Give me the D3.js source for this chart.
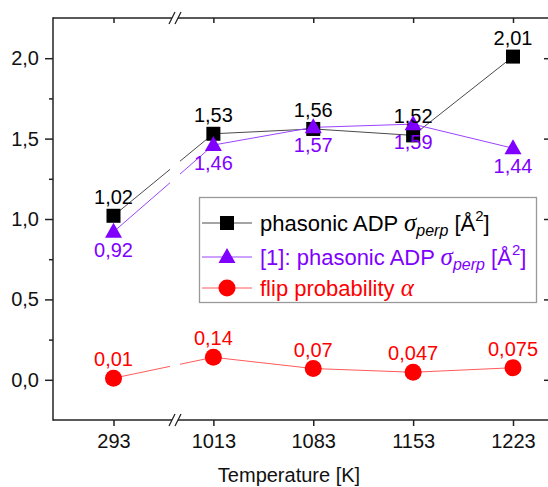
<!DOCTYPE html>
<html><head><meta charset="utf-8">
<script src="https://d3js.org/d3.v7.min.js"></script>
<style>
html,body{margin:0;padding:0;background:#fff;}
svg{display:block;font-family:"Liberation Sans",Arial,sans-serif;}
</style></head>
<body>
<svg id="c" width="548" height="487"></svg>
<script>
const categories = ["293","1013","1083","1153","1223"];
const phasonADP = [1.02, 1.53, 1.56, 1.52, 2.01];
const refADP = [0.92, 1.46, 1.57, 1.59, 1.44];
const flipProb = [0.01, 0.14, 0.07, 0.047, 0.075];
const phasonLabels = ["1,02","1,53","1,56","1,52","2,01"];
const refLabels = ["0,92","1,46","1,57","1,59","1,44"];
const flipLabels = ["0,01","0,14","0,07","0,047","0,075"];
const yTicks = [0, 0.5, 1.0, 1.5, 2.0];
const yMinorTicks = [0.25, 0.75, 1.25, 1.75];

const svg = d3.select("#c");
const L = 53, R = 549, T = 18, B = 420;
const x = d3.scalePoint().domain(categories).range([113.5, 513]);
const y = d3.scaleLinear().domain([-0.25, 2.25]).range([B, T]);
const fmt = v => d3.format(".1f")(v).replace(".", ",");
const axisColor = "#222";
const FS = 20;

const breakX = 175;
const defs = svg.append("defs");
const cp = defs.append("clipPath").attr("id","gap");
cp.append("rect").attr("x",0).attr("y",0).attr("width",breakX-5).attr("height",487);
cp.append("rect").attr("x",breakX+5).attr("y",0).attr("width",548).attr("height",487);

const gL = svg.append("g").attr("transform",`translate(${L},0)`)
  .call(d3.axisLeft(y).tickValues(yTicks).tickSize(8).tickPadding(5).tickFormat(fmt));
gL.append("g").call(d3.axisLeft(y).tickValues(yMinorTicks).tickSize(4).tickFormat(""));
const gR = svg.append("g").attr("transform",`translate(${R},0)`)
  .call(d3.axisLeft(y).tickValues(yTicks).tickSize(5).tickFormat(""));
const gB = svg.append("g").attr("transform",`translate(0,${B})`)
  .call(d3.axisBottom(x).tickSize(6).tickPadding(8));
const gT = svg.append("g").attr("transform",`translate(0,${T})`)
  .call(d3.axisBottom(x).tickSize(5).tickFormat(""));
[gL,gR,gB,gT].forEach(g=>{
  g.selectAll(".domain").remove();
  g.selectAll("line").attr("stroke",axisColor).attr("stroke-width",1.5);
  g.selectAll("text").attr("font-size",FS).attr("fill","#111")
    .attr("font-family",'"Liberation Sans",Arial,sans-serif');
});
gL.selectAll("text").attr("dx",-1);
const frame = svg.append("g").attr("stroke",axisColor).attr("stroke-width",1.5).attr("fill","none");
frame.append("line").attr("x1",L).attr("x2",L).attr("y1",T-0.75).attr("y2",B+0.75);
frame.append("line").attr("x1",R).attr("x2",R).attr("y1",T).attr("y2",B);
frame.append("line").attr("x1",L).attr("x2",R).attr("y1",T).attr("y2",T);
frame.append("line").attr("x1",L).attr("x2",R).attr("y1",B).attr("y2",B);
[T,B].forEach(yy=>{
  svg.append("rect").attr("x",breakX-3).attr("y",yy-2).attr("width",6).attr("height",4).attr("fill","#fff");
  [-3,3].forEach(dx=>{
    svg.append("line").attr("x1",breakX+dx-3).attr("y1",yy+6).attr("x2",breakX+dx+3).attr("y2",yy-6)
      .attr("stroke",axisColor).attr("stroke-width",1.3);
  });
});

svg.append("text").attr("x",289).attr("y",482).attr("text-anchor","middle")
  .attr("font-size",FS).attr("fill","#111").text("Temperature [K]");

const series = [
  {vals: phasonADP, labels: phasonLabels, color:"#000", line:"#4a4a4a", shape:"square", dy:-12},
  {vals: refADP, labels: refLabels, color:"#8000ff", line:"#9a44ff", shape:"triangle", dy:25},
  {vals: flipProb, labels: flipLabels, color:"#ff0000", line:"#ff5a5a", shape:"circle", dy:-12}
];
const lineGen = d3.line().x((d,i)=>x(categories[i])).y(d=>y(d));
series.forEach(s=>{
  svg.append("path").datum(s.vals).attr("d",lineGen).attr("fill","none")
    .attr("stroke",s.line).attr("stroke-width",1).attr("clip-path","url(#gap)");
});
function marker(g, shape, color, cx, cy){
  if(shape==="square") g.append("rect").attr("x",cx-7).attr("y",cy-7).attr("width",14).attr("height",14).attr("fill",color);
  else if(shape==="triangle") g.append("path").attr("d",`M${cx},${cy-9}L${cx+8.5},${cy+6}L${cx-8.5},${cy+6}Z`).attr("fill",color);
  else g.append("circle").attr("cx",cx).attr("cy",cy).attr("r",8.5).attr("fill",color);
}
series.forEach(s=>{
  const g = svg.append("g");
  s.vals.forEach((v,i)=>marker(g, s.shape, s.color, x(categories[i]), y(v)));
});
series.forEach(s=>{
  svg.append("g").selectAll("text").data(s.vals).join("text")
    .attr("x",(d,i)=>x(categories[i])).attr("y",d=>y(d)+s.dy)
    .attr("text-anchor","middle").attr("font-size",FS).attr("fill",s.color)
    .text((d,i)=>s.labels[i]);
});

const lg = svg.append("g");
lg.append("rect").attr("x",199.5).attr("y",197.5).attr("width",337).attr("height",105)
  .attr("fill","#fff").attr("stroke","#999").attr("stroke-width",1.3);
const legendRows = [
  {s:series[0], cy:223, parts:[["phasonic ADP ",""],["σ","sig"],["perp","sub"],[" [Å",""],["2","sup"],["]",""]]},
  {s:series[1], cy:257, parts:[["[1]: phasonic ADP ",""],["σ","sig"],["perp","sub"],[" [Å",""],["2","sup"],["]",""]]},
  {s:series[2], cy:288, parts:[["flip probability ",""],["α","sig"]]}
];
legendRows.forEach(r=>{
  lg.append("line").attr("x1",202).attr("x2",252).attr("y1",r.cy).attr("y2",r.cy)
    .attr("stroke",r.s.line).attr("stroke-width",1);
  marker(lg, r.s.shape, r.s.color, 227, r.cy);
  const t = lg.append("text").attr("x",260).attr("y",r.cy+8).attr("font-size",22).attr("fill",r.s.color);
  r.parts.forEach(([txt,kind])=>{
    const ts = t.append("tspan").text(txt);
    if(kind==="sig") ts.attr("font-family",'"Liberation Serif","Times New Roman",serif').attr("font-style","italic").attr("font-size",25);
    if(kind==="sub") ts.attr("font-style","italic").attr("font-size",16).attr("dy",5);
    if(kind==="sup") ts.attr("font-size",15).attr("dy",-10);
    if(kind==="" && (txt.startsWith(" [") )) ts.attr("dy",-5);
    if(kind==="" && txt==="]") ts.attr("dy",10);
  });
});
</script>
</body></html>
